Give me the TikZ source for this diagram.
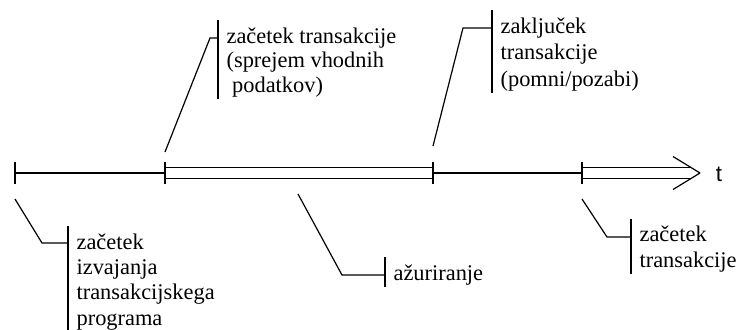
\documentclass[tikz,border=0pt]{standalone}
\usepackage{fontspec}
\setmainfont{Liberation Serif}
\setsansfont{Liberation Sans}
\begin{document}
\begin{tikzpicture}[
    x=0.5pt, y=-0.5pt,
    line width=0.6pt,
    lbl/.style={anchor=base west, align=left, inner xsep=4pt, inner ysep=1pt,
                font=\fontsize{11.2}{12.6}\selectfont},
    tick/.style={line width=0.6pt},
    dbl/.style={double, double distance=5.1pt, line width=0.6pt}
]
\useasboundingbox (0,0) rectangle (739,329);

% Time axis - tick points
\coordinate (t0) at (15,173);
\coordinate (t1) at (165,173);
\coordinate (t2) at (433,173);
\coordinate (t3) at (582,173);
\coordinate (tip) at (700,173);
\coordinate (tend) at (691,173);

% Axis segments
\draw (t0) -- (t1);
\draw[dbl] (t1) -- (t2);
\draw (t2) -- (t3);
\draw[dbl] (t3) -- (tend);
\draw (tip) -- ++(-27,-16.5) (tip) -- ++(-27,16.5);
\node[font=\sffamily\fontsize{11.2}{12.6}\selectfont] (t) at (719,174) {t};

% Ticks
\foreach \p in {t0,t1,t2,t3}
    \draw[tick] (\p) ++(0,-11) -- ++(0,22);

% Labels (placed at the baseline of their last line)
\node[lbl] (start) at (68,325) {začetek\\izvajanja\\transakcijskega\\programa};
\node[lbl, font=\fontsize{11.2}{12.2}\selectfont] (begin) at (218,92) {začetek transakcije\\(sprejem vhodnih\\ \hspace{0.25em}podatkov)};
\node[lbl, font=\fontsize{11.2}{13.2}\selectfont] (commit) at (492,86) {zaključek\\transakcije\\(pomni/pozabi)};
\node[lbl] (update) at (385,280) {ažuriranje};
\node[lbl] (next) at (631,267) {začetek\\transakcije};

% Label bars
\foreach \n in {start,begin,commit,update,next}
    \draw ([yshift=2.5pt]\n.north west) -- (\n.south west);

% Leaders from ticks to labels
\coordinate (s0) at (15,199);
\coordinate (s1) at (165,152);
\coordinate (s2) at (433,146);
\coordinate (s3) at (298,194);
\coordinate (s4) at (582,199);
\draw (s0) -- (42,243) -- (42,243 -| start.west);
\draw (s1) -- (210,38) -- (210,38 -| begin.west);
\draw (s2) -- (463,28) -- (463,28 -| commit.west);
\draw (s3) -- (342,275) -- (342,275 -| update.west);
\draw (s4) -- (607,237) -- (607,237 -| next.west);

\end{tikzpicture}
\end{document}
